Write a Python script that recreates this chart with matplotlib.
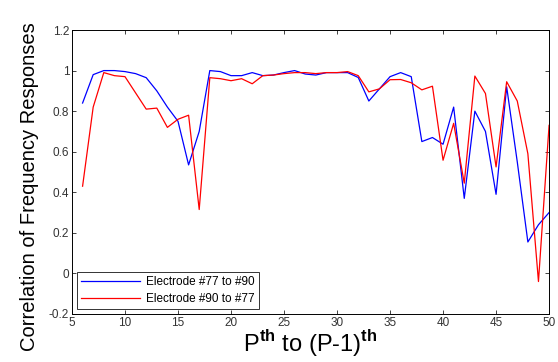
import matplotlib
matplotlib.use("Agg")
import matplotlib.pyplot as plt
from matplotlib.ticker import FuncFormatter

plt.rcParams['font.family'] = ['Liberation Sans', 'DejaVu Sans']
plt.rcParams['mathtext.fontset'] = 'custom'
plt.rcParams['mathtext.rm'] = 'Liberation Sans'
plt.rcParams['mathtext.bf'] = 'Liberation Sans:bold'

p_index = list(range(6, 51))
elec_77_to_90 = [0.84, 0.98, 1.00, 1.00, 0.995, 0.985, 0.965, 0.90, 0.82, 0.75,
                 0.535, 0.70, 1.00, 0.995, 0.975, 0.975, 0.99, 0.975, 0.978, 0.99,
                 1.00, 0.983, 0.978, 0.99, 0.99, 0.99, 0.966, 0.85, 0.91, 0.97,
                 0.99, 0.97, 0.65, 0.67, 0.637, 0.82, 0.37, 0.80, 0.70, 0.39,
                 0.92, 0.55, 0.155, 0.24, 0.30]
elec_90_to_77 = [0.43, 0.82, 0.99, 0.975, 0.97, 0.89, 0.81, 0.815, 0.72, 0.76,
                 0.78, 0.315, 0.965, 0.96, 0.95, 0.96, 0.935, 0.975, 0.978, 0.985,
                 0.99, 0.99, 0.985, 0.99, 0.99, 0.995, 0.975, 0.895, 0.91, 0.955,
                 0.956, 0.94, 0.905, 0.923, 0.558, 0.74, 0.445, 0.973, 0.887, 0.525,
                 0.945, 0.85, 0.59, -0.04, 0.73]
labels = ['Electrode #77 to #90', 'Electrode #90 to #77']
x_ticks = [5, 10, 15, 20, 25, 30, 35, 40, 45, 50]
y_ticks = [-0.2, 0, 0.2, 0.4, 0.6, 0.8, 1, 1.2]

fig = plt.figure(figsize=(5.58, 3.62), dpi=100)
ax = fig.add_axes([0.129, 0.1326, 0.855, 0.7845])
ax.plot(p_index, elec_77_to_90, color='#0000ff', lw=0.9, label=labels[0])
ax.plot(p_index, elec_90_to_77, color='#ff0000', lw=0.9, label=labels[1])
ax.set_xlim(5, 50)
ax.set_ylim(-0.2, 1.2)
ax.set_xticks(x_ticks)
ax.set_yticks(y_ticks)
ax.yaxis.set_major_formatter(FuncFormatter(lambda v, p: '%g' % round(v, 2)))
ax.tick_params(direction='in', top=True, right=True, labelsize=8.5, length=3,
               width=0.6, pad=2, colors='#222222', labelcolor='#333333')
for s in ax.spines.values():
    s.set_linewidth(0.7)
ax.set_ylabel('Correlation of Frequency Responses', fontsize=14.5, labelpad=7,
              y=0.45)
ax.set_xlabel(r'P$^{\mathbf{th}}$ to (P-1)$^{\mathbf{th}}$', fontsize=17, labelpad=-1)
leg = ax.legend(loc='lower left', fontsize=8.5, frameon=True, fancybox=False,
                edgecolor='black', borderpad=0.35, labelspacing=0.45,
                handlelength=5.0, handletextpad=0.5, borderaxespad=0.4)
leg.get_frame().set_linewidth(0.7)
fig.savefig('out.png', dpi=100)
